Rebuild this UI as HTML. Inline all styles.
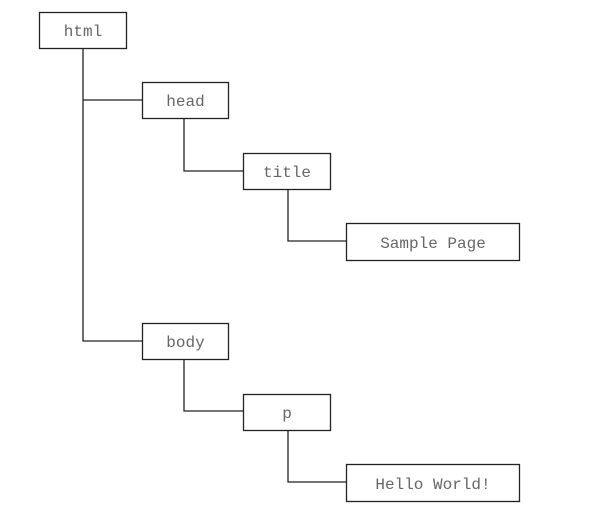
<!DOCTYPE html>
<html><head><style>body{margin:0;background:#fff}</style></head><body>
<svg width="615" height="516" xmlns="http://www.w3.org/2000/svg">
<g fill="none" stroke="#222" stroke-width="1.3">
<path d="M83 48V341H142M83 100H142"/>
<path d="M184 118V171H243"/>
<path d="M288 189V241H347"/>
<path d="M184 359V411H243"/>
<path d="M288 430V482H347"/>
<rect x="39.5" y="12.5" width="87" height="36" fill="#fff"/>
<rect x="142.5" y="82.5" width="86" height="36" fill="#fff"/>
<rect x="243.5" y="153.5" width="87" height="36" fill="#fff"/>
<rect x="346.5" y="223.5" width="173" height="37" fill="#fff"/>
<rect x="142.5" y="323.5" width="86" height="36" fill="#fff"/>
<rect x="243.5" y="394.5" width="87" height="36" fill="#fff"/>
<rect x="346.5" y="464.5" width="173" height="37" fill="#fff"/>
</g>
<g font-family="Liberation Mono, monospace" font-size="16" fill="#666" text-anchor="middle">
<text x="83" y="36">html</text>
<text x="185.5" y="106">head</text>
<text x="287" y="177">title</text>
<text x="433" y="248">Sample Page</text>
<text x="185.5" y="347">body</text>
<text x="287" y="418">p</text>
<text x="433" y="489">Hello World!</text>
</g>
</svg>
</body></html>
